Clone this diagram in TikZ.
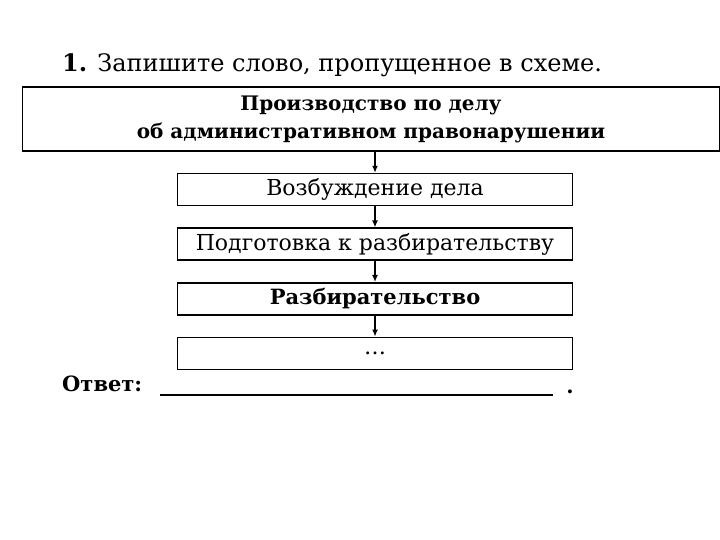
\documentclass[tikz,border=0pt]{standalone}
\usepackage{fontspec}
\setmainfont{DejaVu Serif}
\usetikzlibrary{arrows.meta,positioning}

\begin{document}
\begin{tikzpicture}[
 x=1pt,y=1pt,
 node distance=21pt,
 box/.style={draw,line width=1.6pt,align=center,minimum width=395pt,minimum height=32pt,inner sep=0pt,font=\fontsize{22}{24}\selectfont},
 arr/.style={-{Latex[length=7pt,width=6pt]},line width=2pt}
]
\useasboundingbox (0,0) rectangle (720,540);
\node[anchor=base west,inner sep=0pt,font=\fontsize{24}{26}\selectfont] (task) at (62,468) {\textbf{1.} Запишите слово, пропущенное в схеме.};
\node[box,minimum width=697pt,minimum height=64pt,font=\bfseries\fontsize{20}{28}\selectfont] (case) at (371,421) {Производство по делу\\об административном правонарушении};
\node[box,below=of case,xshift=4pt] (start) {Возбуждение дела};
\node[box,below=of start] (prep) {Подготовка к разбирательству};
\node[box,below=of prep,font=\bfseries\fontsize{21}{24}\selectfont] (trial) {Разбирательство};
\node[box,below=of trial] (gap) {\dots};
\draw[arr] (case.south -| start)--(start);
\draw[arr] (start)--(prep);
\draw[arr] (prep)--(trial);
\draw[arr] (trial)--(gap);
\node[anchor=base west,font=\bfseries\fontsize{21}{24}\selectfont,inner sep=0pt] (answer) at (62,148) {Ответ:};
\coordinate (lineL) at (160,145);
\coordinate (lineR) at (553,145);
\draw[line width=1.4pt] (lineL)--(lineR);
\node[anchor=base,font=\bfseries\fontsize{21}{24}\selectfont] (stop) at (570,146) {.};
\end{tikzpicture}
\end{document}
